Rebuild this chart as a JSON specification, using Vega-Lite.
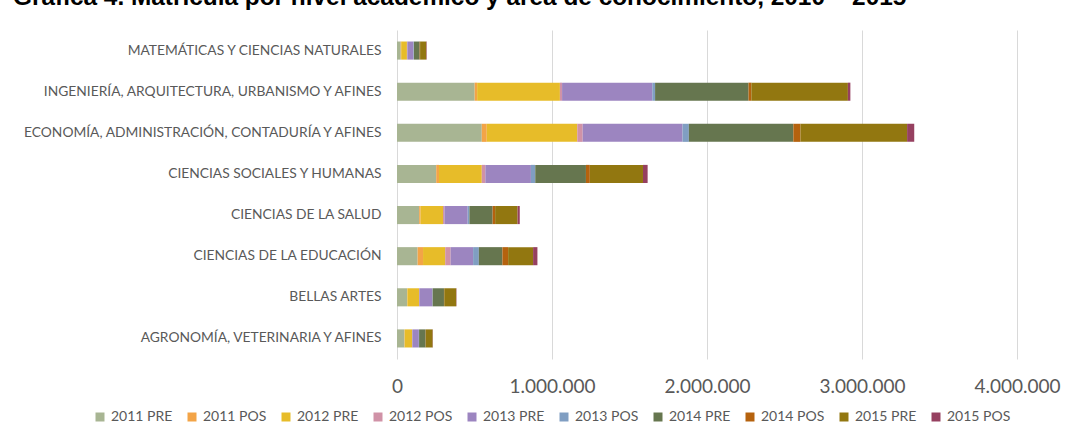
{
  "$schema": "https://vega.github.io/schema/vega-lite/v6.json",
  "autosize": {"type": "none"},
  "width": 620,
  "height": 329,
  "padding": {"left": 397, "top": 30, "right": 63, "bottom": 82},
  "background": "white",
  "title": {
    "text": "Gráfica 4. Matrícula por nivel académico y área de conocimiento, 2010 – 2015",
    "anchor": "start",
    "frame": "group",
    "dx": -384,
    "dy": -1,
    "offset": 0,
    "baseline": "alphabetic",
    "font": "Liberation Sans",
    "fontSize": 24.4,
    "fontWeight": "bold",
    "color": "#000000"
  },
  "config": {
    "locale": {"number": {"decimal": ",", "thousands": ".", "grouping": [3], "currency": ["$", ""]}},
    "view": {"stroke": null},
    "font": "Lato"
  },
  "data": {
    "values": [
      {"area": "MATEMÁTICAS Y CIENCIAS NATURALES", "serie": "2011 PRE", "idx": 0, "valor": 24000},
      {"area": "MATEMÁTICAS Y CIENCIAS NATURALES", "serie": "2011 POS", "idx": 1, "valor": 3000},
      {"area": "MATEMÁTICAS Y CIENCIAS NATURALES", "serie": "2012 PRE", "idx": 2, "valor": 37000},
      {"area": "MATEMÁTICAS Y CIENCIAS NATURALES", "serie": "2012 POS", "idx": 3, "valor": 3000},
      {"area": "MATEMÁTICAS Y CIENCIAS NATURALES", "serie": "2013 PRE", "idx": 4, "valor": 39000},
      {"area": "MATEMÁTICAS Y CIENCIAS NATURALES", "serie": "2013 POS", "idx": 5, "valor": 3000},
      {"area": "MATEMÁTICAS Y CIENCIAS NATURALES", "serie": "2014 PRE", "idx": 6, "valor": 37000},
      {"area": "MATEMÁTICAS Y CIENCIAS NATURALES", "serie": "2014 POS", "idx": 7, "valor": 3000},
      {"area": "MATEMÁTICAS Y CIENCIAS NATURALES", "serie": "2015 PRE", "idx": 8, "valor": 40000},
      {"area": "MATEMÁTICAS Y CIENCIAS NATURALES", "serie": "2015 POS", "idx": 9, "valor": 3000},

      {"area": "INGENIERÍA, ARQUITECTURA, URBANISMO Y AFINES", "serie": "2011 PRE", "idx": 0, "valor": 501000},
      {"area": "INGENIERÍA, ARQUITECTURA, URBANISMO Y AFINES", "serie": "2011 POS", "idx": 1, "valor": 16000},
      {"area": "INGENIERÍA, ARQUITECTURA, URBANISMO Y AFINES", "serie": "2012 PRE", "idx": 2, "valor": 534000},
      {"area": "INGENIERÍA, ARQUITECTURA, URBANISMO Y AFINES", "serie": "2012 POS", "idx": 3, "valor": 14000},
      {"area": "INGENIERÍA, ARQUITECTURA, URBANISMO Y AFINES", "serie": "2013 PRE", "idx": 4, "valor": 582000},
      {"area": "INGENIERÍA, ARQUITECTURA, URBANISMO Y AFINES", "serie": "2013 POS", "idx": 5, "valor": 18000},
      {"area": "INGENIERÍA, ARQUITECTURA, URBANISMO Y AFINES", "serie": "2014 PRE", "idx": 6, "valor": 603000},
      {"area": "INGENIERÍA, ARQUITECTURA, URBANISMO Y AFINES", "serie": "2014 POS", "idx": 7, "valor": 18000},
      {"area": "INGENIERÍA, ARQUITECTURA, URBANISMO Y AFINES", "serie": "2015 PRE", "idx": 8, "valor": 623000},
      {"area": "INGENIERÍA, ARQUITECTURA, URBANISMO Y AFINES", "serie": "2015 POS", "idx": 9, "valor": 16000},

      {"area": "ECONOMÍA, ADMINISTRACIÓN, CONTADURÍA Y AFINES", "serie": "2011 PRE", "idx": 0, "valor": 547000},
      {"area": "ECONOMÍA, ADMINISTRACIÓN, CONTADURÍA Y AFINES", "serie": "2011 POS", "idx": 1, "valor": 32000},
      {"area": "ECONOMÍA, ADMINISTRACIÓN, CONTADURÍA Y AFINES", "serie": "2012 PRE", "idx": 2, "valor": 584000},
      {"area": "ECONOMÍA, ADMINISTRACIÓN, CONTADURÍA Y AFINES", "serie": "2012 POS", "idx": 3, "valor": 35000},
      {"area": "ECONOMÍA, ADMINISTRACIÓN, CONTADURÍA Y AFINES", "serie": "2013 PRE", "idx": 4, "valor": 644000},
      {"area": "ECONOMÍA, ADMINISTRACIÓN, CONTADURÍA Y AFINES", "serie": "2013 POS", "idx": 5, "valor": 41000},
      {"area": "ECONOMÍA, ADMINISTRACIÓN, CONTADURÍA Y AFINES", "serie": "2014 PRE", "idx": 6, "valor": 674000},
      {"area": "ECONOMÍA, ADMINISTRACIÓN, CONTADURÍA Y AFINES", "serie": "2014 POS", "idx": 7, "valor": 46000},
      {"area": "ECONOMÍA, ADMINISTRACIÓN, CONTADURÍA Y AFINES", "serie": "2015 PRE", "idx": 8, "valor": 688000},
      {"area": "ECONOMÍA, ADMINISTRACIÓN, CONTADURÍA Y AFINES", "serie": "2015 POS", "idx": 9, "valor": 46000},

      {"area": "CIENCIAS SOCIALES Y HUMANAS", "serie": "2011 PRE", "idx": 0, "valor": 253000},
      {"area": "CIENCIAS SOCIALES Y HUMANAS", "serie": "2011 POS", "idx": 1, "valor": 18000},
      {"area": "CIENCIAS SOCIALES Y HUMANAS", "serie": "2012 PRE", "idx": 2, "valor": 276000},
      {"area": "CIENCIAS SOCIALES Y HUMANAS", "serie": "2012 POS", "idx": 3, "valor": 23000},
      {"area": "CIENCIAS SOCIALES Y HUMANAS", "serie": "2013 PRE", "idx": 4, "valor": 294000},
      {"area": "CIENCIAS SOCIALES Y HUMANAS", "serie": "2013 POS", "idx": 5, "valor": 28000},
      {"area": "CIENCIAS SOCIALES Y HUMANAS", "serie": "2014 PRE", "idx": 6, "valor": 327000},
      {"area": "CIENCIAS SOCIALES Y HUMANAS", "serie": "2014 POS", "idx": 7, "valor": 25000},
      {"area": "CIENCIAS SOCIALES Y HUMANAS", "serie": "2015 PRE", "idx": 8, "valor": 343000},
      {"area": "CIENCIAS SOCIALES Y HUMANAS", "serie": "2015 POS", "idx": 9, "valor": 30000},

      {"area": "CIENCIAS DE LA SALUD", "serie": "2011 PRE", "idx": 0, "valor": 143000},
      {"area": "CIENCIAS DE LA SALUD", "serie": "2011 POS", "idx": 1, "valor": 9000},
      {"area": "CIENCIAS DE LA SALUD", "serie": "2012 PRE", "idx": 2, "valor": 145000},
      {"area": "CIENCIAS DE LA SALUD", "serie": "2012 POS", "idx": 3, "valor": 9000},
      {"area": "CIENCIAS DE LA SALUD", "serie": "2013 PRE", "idx": 4, "valor": 150000},
      {"area": "CIENCIAS DE LA SALUD", "serie": "2013 POS", "idx": 5, "valor": 11000},
      {"area": "CIENCIAS DE LA SALUD", "serie": "2014 PRE", "idx": 6, "valor": 150000},
      {"area": "CIENCIAS DE LA SALUD", "serie": "2014 POS", "idx": 7, "valor": 16000},
      {"area": "CIENCIAS DE LA SALUD", "serie": "2015 PRE", "idx": 8, "valor": 145000},
      {"area": "CIENCIAS DE LA SALUD", "serie": "2015 POS", "idx": 9, "valor": 14000},

      {"area": "CIENCIAS DE LA EDUCACIÓN", "serie": "2011 PRE", "idx": 0, "valor": 133000},
      {"area": "CIENCIAS DE LA EDUCACIÓN", "serie": "2011 POS", "idx": 1, "valor": 35000},
      {"area": "CIENCIAS DE LA EDUCACIÓN", "serie": "2012 PRE", "idx": 2, "valor": 143000},
      {"area": "CIENCIAS DE LA EDUCACIÓN", "serie": "2012 POS", "idx": 3, "valor": 35000},
      {"area": "CIENCIAS DE LA EDUCACIÓN", "serie": "2013 PRE", "idx": 4, "valor": 145000},
      {"area": "CIENCIAS DE LA EDUCACIÓN", "serie": "2013 POS", "idx": 5, "valor": 37000},
      {"area": "CIENCIAS DE LA EDUCACIÓN", "serie": "2014 PRE", "idx": 6, "valor": 152000},
      {"area": "CIENCIAS DE LA EDUCACIÓN", "serie": "2014 POS", "idx": 7, "valor": 37000},
      {"area": "CIENCIAS DE LA EDUCACIÓN", "serie": "2015 PRE", "idx": 8, "valor": 161000},
      {"area": "CIENCIAS DE LA EDUCACIÓN", "serie": "2015 POS", "idx": 9, "valor": 28000},

      {"area": "BELLAS ARTES", "serie": "2011 PRE", "idx": 0, "valor": 65000},
      {"area": "BELLAS ARTES", "serie": "2011 POS", "idx": 1, "valor": 2000},
      {"area": "BELLAS ARTES", "serie": "2012 PRE", "idx": 2, "valor": 75000},
      {"area": "BELLAS ARTES", "serie": "2012 POS", "idx": 3, "valor": 2000},
      {"area": "BELLAS ARTES", "serie": "2013 PRE", "idx": 4, "valor": 84000},
      {"area": "BELLAS ARTES", "serie": "2013 POS", "idx": 5, "valor": 2000},
      {"area": "BELLAS ARTES", "serie": "2014 PRE", "idx": 6, "valor": 73000},
      {"area": "BELLAS ARTES", "serie": "2014 POS", "idx": 7, "valor": 2000},
      {"area": "BELLAS ARTES", "serie": "2015 PRE", "idx": 8, "valor": 77000},
      {"area": "BELLAS ARTES", "serie": "2015 POS", "idx": 9, "valor": 2000},

      {"area": "AGRONOMÍA, VETERINARIA Y AFINES", "serie": "2011 PRE", "idx": 0, "valor": 48000},
      {"area": "AGRONOMÍA, VETERINARIA Y AFINES", "serie": "2011 POS", "idx": 1, "valor": 1500},
      {"area": "AGRONOMÍA, VETERINARIA Y AFINES", "serie": "2012 PRE", "idx": 2, "valor": 48000},
      {"area": "AGRONOMÍA, VETERINARIA Y AFINES", "serie": "2012 POS", "idx": 3, "valor": 1500},
      {"area": "AGRONOMÍA, VETERINARIA Y AFINES", "serie": "2013 PRE", "idx": 4, "valor": 42000},
      {"area": "AGRONOMÍA, VETERINARIA Y AFINES", "serie": "2013 POS", "idx": 5, "valor": 1500},
      {"area": "AGRONOMÍA, VETERINARIA Y AFINES", "serie": "2014 PRE", "idx": 6, "valor": 42000},
      {"area": "AGRONOMÍA, VETERINARIA Y AFINES", "serie": "2014 POS", "idx": 7, "valor": 1500},
      {"area": "AGRONOMÍA, VETERINARIA Y AFINES", "serie": "2015 PRE", "idx": 8, "valor": 44000},
      {"area": "AGRONOMÍA, VETERINARIA Y AFINES", "serie": "2015 POS", "idx": 9, "valor": 1500}
    ]
  },
  "mark": {"type": "bar"},
  "encoding": {
    "y": {
      "field": "area",
      "type": "nominal",
      "sort": [
        "MATEMÁTICAS Y CIENCIAS NATURALES",
        "INGENIERÍA, ARQUITECTURA, URBANISMO Y AFINES",
        "ECONOMÍA, ADMINISTRACIÓN, CONTADURÍA Y AFINES",
        "CIENCIAS SOCIALES Y HUMANAS",
        "CIENCIAS DE LA SALUD",
        "CIENCIAS DE LA EDUCACIÓN",
        "BELLAS ARTES",
        "AGRONOMÍA, VETERINARIA Y AFINES"
      ],
      "scale": {"paddingInner": 0.56, "paddingOuter": 0.28},
      "axis": {
        "title": null,
        "domain": false,
        "ticks": false,
        "grid": false,
        "labelPadding": 16,
        "labelLimit": 500,
        "labelFont": "Lato",
        "labelFontSize": 13.8,
        "labelColor": "#595959"
      }
    },
    "x": {
      "field": "valor",
      "type": "quantitative",
      "stack": "zero",
      "scale": {"domain": [0, 4000000], "nice": false},
      "axis": {
        "title": null,
        "values": [0, 1000000, 2000000, 3000000, 4000000],
        "format": ",d",
        "domain": false,
        "ticks": false,
        "grid": true,
        "gridColor": "#D9D9D9",
        "gridWidth": 1,
        "labelPadding": 18,
        "labelFont": "Lato",
        "labelFontSize": 19,
        "labelColor": "#595959",
        "labelFlush": false
      }
    },
    "color": {
      "field": "serie",
      "type": "nominal",
      "scale": {
        "domain": ["2011 PRE", "2011 POS", "2012 PRE", "2012 POS", "2013 PRE", "2013 POS", "2014 PRE", "2014 POS", "2015 PRE", "2015 POS"],
        "range": ["#A8B593", "#F3A447", "#E7BC29", "#D092A7", "#9C85C0", "#809EC2", "#66764F", "#B5620E", "#927710", "#964060"]
      },
      "legend": {
        "title": null,
        "orient": "none",
        "legendX": -304,
        "legendY": 380,
        "direction": "horizontal",
        "columns": 10,
        "columnPadding": 12,
        "padding": 0,
        "symbolType": "square",
        "symbolSize": 81,
        "symbolStrokeWidth": 0,
        "labelFont": "Lato",
        "labelFontSize": 14,
        "labelColor": "#595959",
        "labelOffset": 4
      }
    },
    "order": {"field": "idx", "type": "quantitative"}
  }
}
